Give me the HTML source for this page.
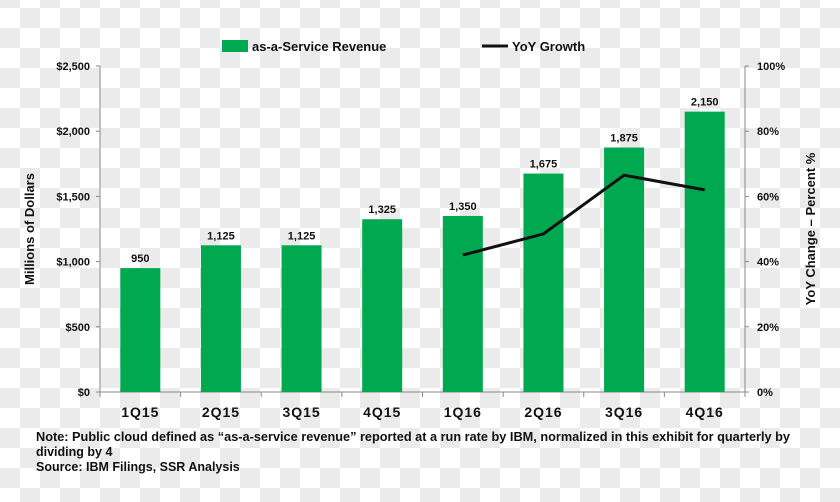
<!DOCTYPE html>
<html><head><meta charset="utf-8"><style>
body{margin:0;width:840px;height:497px;overflow:hidden;font-family:"Liberation Sans",sans-serif;
background-color:#fff;background-image:conic-gradient(#ebebeb 25%,#fff 0 50%,#ebebeb 0 75%,#fff 0);background-size:40px 40px;background-position:0 8px}
svg text{font-family:"Liberation Sans",sans-serif;font-weight:bold;fill:#111}
</style></head><body>
<svg id="chart" width="840" height="497" xmlns="http://www.w3.org/2000/svg">
<g>
<rect x="222" y="40" width="26" height="12" fill="#00a94f"/>
<text x="252" y="51" font-size="13">as-a-Service Revenue</text>
<line x1="482" y1="46" x2="508" y2="46" stroke="#111" stroke-width="3"/>
<text x="512" y="51" font-size="13">YoY Growth</text>
</g>
<g id="plot"></g>
<text transform="translate(34,229) rotate(-90)" text-anchor="middle" font-size="13">Millions of Dollars</text>
<text transform="translate(815,229) rotate(-90)" text-anchor="middle" font-size="13">YoY Change – Percent %</text>
<text font-size="12.5"><tspan x="36" y="441" textLength="754" lengthAdjust="spacingAndGlyphs">Note: Public cloud defined as “as-a-service revenue” reported at a run rate by IBM, normalized in this exhibit for quarterly by</tspan><tspan x="36" y="456">dividing by 4</tspan><tspan x="36" y="471">Source: IBM Filings, SSR Analysis</tspan></text>
</svg>
<script>
const categories=["1Q15","2Q15","3Q15","4Q15","1Q16","2Q16","3Q16","4Q16"];
const revenue=[950,1125,1125,1325,1350,1675,1875,2150];
const revenueLabels=["950","1,125","1,125","1,325","1,350","1,675","1,875","2,150"];
const growth=[null,null,null,null,42,48.5,66.5,62];
const leftTicks=[0,500,1000,1500,2000,2500];
const leftTickLabels=["$0","$500","$1,000","$1,500","$2,000","$2,500"];
const rightTicks=[0,20,40,60,80,100];
const rightTickLabels=["0%","20%","40%","60%","80%","100%"];

const NS="http://www.w3.org/2000/svg";
const g=document.getElementById('plot');
const X0=100,X1=745,Y0=392,Y1=66;
const yL=v=>Y0-(v/2500)*(Y0-Y1);
const yR=v=>Y0-(v/100)*(Y0-Y1);
const step=(X1-X0)/categories.length;
const xC=i=>X0+step*(i+0.5);
function mk(tag,attrs,parent){const e=document.createElementNS(NS,tag);for(const k in attrs)e.setAttribute(k,attrs[k]);(parent||g).appendChild(e);return e;}
let a=mk('line',{x1:X0,y1:Y1,x2:X0,y2:Y0,stroke:'#888'});


a=mk('line',{x1:X1,y1:Y1,x2:X1,y2:Y0,stroke:'#888'});


a=mk('line',{x1:X0,y1:Y0,x2:X1,y2:Y0,stroke:'#888'});


leftTicks.forEach((v,i)=>{
 mk('line',{x1:X0-4,x2:X0,y1:yL(v),y2:yL(v),stroke:'#888'});
 const t=mk('text',{x:X0-10,y:yL(v)+4,'text-anchor':'end','font-size':11});
 t.textContent=leftTickLabels[i];
 
 
});
rightTicks.forEach((v,i)=>{
 mk('line',{x1:X1,x2:X1+4,y1:yR(v),y2:yR(v),stroke:'#888'});
 const t=mk('text',{x:X1+12,y:yR(v)+4,'font-size':11});
 t.textContent=rightTickLabels[i];
 
 
});
for(let i=0;i<=categories.length;i++){mk('line',{x1:X0+step*i,x2:X0+step*i,y1:Y0,y2:Y0+5,stroke:'#888'});}
categories.forEach((c,i)=>{
 const bw=40;
 const r=mk('rect',{x:xC(i)-bw/2,y:yL(revenue[i]),width:bw,height:Y0-yL(revenue[i]),fill:'#00a94f'});
 
 
 const l=mk('text',{x:xC(i),y:yL(revenue[i])-6,'text-anchor':'middle','font-size':11});
 l.textContent=revenueLabels[i];
 
 
 const t=mk('text',{x:xC(i),y:417,'text-anchor':'middle','font-size':14,'letter-spacing':'1'});
 t.textContent=c;
 
 
});
const pts=[];growth.forEach((v,i)=>{if(v!=null)pts.push(xC(i)+','+yR(v));});
const pl=mk('polyline',{points:pts.join(' '),fill:'none',stroke:'#111','stroke-width':3});


</script>
</body></html>
